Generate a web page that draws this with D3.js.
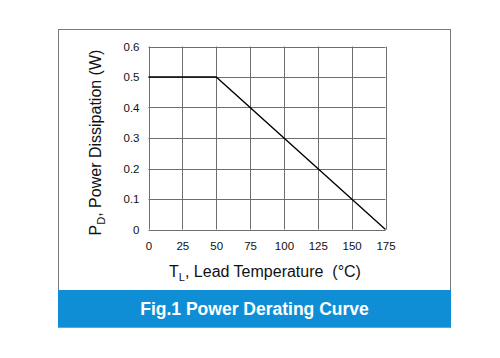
<!DOCTYPE html>
<html><head><meta charset="utf-8">
<script src="https://cdn.jsdelivr.net/npm/d3@7"></script>
<style>body{margin:0;background:#fff;}svg{display:block;font-family:"Liberation Sans",Arial,sans-serif;}</style>
</head><body><svg id="c" width="500" height="358"></svg>
<script>
const temps = [0, 50, 175];
const power = [0.5, 0.5, 0];
const xTicks = [0, 25, 50, 75, 100, 125, 150, 175];
const yTicks = [0, 0.1, 0.2, 0.3, 0.4, 0.5, 0.6];
const title = "Fig.1 Power Derating Curve";

const svg = d3.select("#c");
const box = {l: 58.5, t: 29.5, r: 450.5, b: 327};
const band = {t: 290};
const p = {l: 148.5, t: 46.5, r: 385.5, b: 229.5};

const x = d3.scaleLinear().domain([0, 175]).range([p.l, p.r]);
const y = d3.scaleLinear().domain([0, 0.6]).range([p.b, p.t]);

// outer frame
svg.append("rect").attr("x", box.l).attr("y", box.t).attr("width", box.r - box.l).attr("height", box.b - box.t)
  .attr("fill", "#fff").attr("stroke", "#7a7a7a").attr("stroke-width", 1);
svg.append("rect").attr("x", box.l - 0.5).attr("y", band.t).attr("width", box.r - box.l + 1).attr("height", box.b - band.t + 0.5)
  .attr("fill", "#0f8ed6");
svg.append("text").attr("x", (box.l + box.r) / 2).attr("y", 315).attr("text-anchor", "middle")
  .attr("fill", "#fff").attr("font-weight", "bold").attr("font-size", 17.5).text(title);

// grid
const g = svg.append("g");
g.selectAll("line.vx").data(xTicks).join("line")
  .attr("x1", d => Math.round(x(d)) + 0.5).attr("x2", d => Math.round(x(d)) + 0.5)
  .attr("y1", p.t).attr("y2", p.b).attr("stroke", "#6e6e6e").attr("stroke-width", 1);
g.selectAll("line.hy").data(yTicks).join("line")
  .attr("y1", d => Math.round(y(d)) + 0.5).attr("y2", d => Math.round(y(d)) + 0.5)
  .attr("x1", p.l).attr("x2", p.r).attr("stroke", "#6e6e6e").attr("stroke-width", 1);

// axes (labels only)
const xAxis = d3.axisBottom(x).tickValues(xTicks).tickSize(0).tickPadding(12).tickFormat(d3.format("d"));
const ax = svg.append("g").attr("transform", `translate(0,${p.b})`).call(xAxis);
ax.select(".domain").remove();
ax.selectAll("text").attr("font-size", 11.5).attr("fill", "#111").attr("font-family", "Liberation Sans, Arial, sans-serif");

const yAxis = d3.axisLeft(y).tickValues(yTicks).tickSize(0).tickPadding(9).tickFormat(d => d === 0 ? "0" : d3.format(".1f")(d));
const ay = svg.append("g").attr("transform", `translate(${p.l},0)`).call(yAxis);
ay.select(".domain").remove();
ay.selectAll("text").attr("font-size", 11.5).attr("fill", "#111").attr("font-family", "Liberation Sans, Arial, sans-serif");

// curve
const line = d3.line().x(d => x(d[0])).y(d => y(d[1]));
svg.append("path").datum(temps.map((t, i) => [t, power[i]])).attr("d", line)
  .attr("fill", "none").attr("stroke", "#000").attr("stroke-width", 1.3);

// axis titles
const xt = svg.append("text").attr("x", 265).attr("y", 276.5).attr("text-anchor", "middle")
  .attr("font-size", 16).attr("fill", "#111");
xt.append("tspan").text("T");
xt.append("tspan").attr("font-size", 11).attr("dy", 4).text("L");
xt.append("tspan").attr("dy", -4).text(", Lead Temperature\u00a0\u00a0(°C)");

const yt = svg.append("text").attr("transform", `translate(101,${142.5}) rotate(-90)`)
  .attr("text-anchor", "middle").attr("font-size", 16).attr("fill", "#111");
yt.append("tspan").text("P");
yt.append("tspan").attr("font-size", 11).attr("dy", 4).text("D");
yt.append("tspan").attr("dy", -4).text(", Power Dissipation (W)");
</script></body></html>
